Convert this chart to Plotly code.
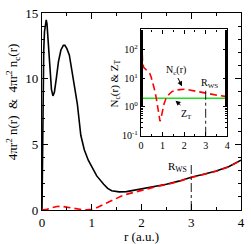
import plotly.graph_objects as go

# total density 4*pi*r^2 n(r)
r_tot = [0, 0.01, 0.02, 0.035, 0.05, 0.07, 0.085, 0.1, 0.13, 0.16, 0.19, 0.22, 0.25, 0.29, 0.33,
         0.38, 0.43, 0.46, 0.5, 0.55, 0.61, 0.67, 0.71, 0.78, 0.85, 0.93, 1.01, 1.1, 1.24, 1.32,
         1.4, 1.55, 1.7, 1.85, 2.0, 2.25, 2.5, 2.75, 3.0, 3.25, 3.5, 3.75, 4.0]
n_tot = [0, 5, 9.5, 12.2, 13.6, 14.3, 14.5, 14.2, 12.6, 10.6, 9.2, 8.7, 9.0, 10.1, 11.3,
         12.2, 12.55, 12.55, 12.3, 11.8, 10.5, 9.0, 8.1, 5.7, 4.6, 3.8, 3.19, 2.6, 1.96, 1.65,
         1.47, 1.38, 1.40, 1.5, 1.62, 1.78, 1.96, 2.2, 2.5, 2.72, 2.97, 3.3, 3.8]

# conduction density 4*pi*r^2 n_c(r)
r_c = [0, 0.1, 0.2, 0.3, 0.4, 0.5, 0.6, 0.7, 0.8, 0.9, 1.0, 1.1, 1.2, 1.3, 1.4, 1.5, 1.6,
       1.73, 1.85, 2.0, 2.25, 2.5, 2.75, 3.0, 3.25, 3.5, 3.75, 4.0]
n_c = [0, 0.05, 0.17, 0.27, 0.28, 0.22, 0.14, 0.07, 0.03, 0.02, 0.06, 0.18, 0.35, 0.55, 0.75,
       0.92, 1.07, 1.23, 1.36, 1.52, 1.74, 1.94, 2.18, 2.48, 2.7, 2.95, 3.28, 3.78]

# inset: N_c(r) and Z_T
r_N = [0.0, 0.01, 0.02, 0.04, 0.07, 0.12, 0.2, 0.3, 0.4, 0.47, 0.55, 0.62, 0.7, 0.77, 0.83,
       0.88, 0.94, 1.0, 1.07, 1.15, 1.23, 1.35, 1.45, 1.65, 1.85, 2.0, 2.25, 2.5, 2.8, 3.0,
       3.3, 3.6, 4.0]
N_c = [1000, 600, 250, 90, 40, 24, 21, 19, 15, 11, 7, 4.2, 2.2, 1.0, 0.5,
       0.32, 0.45, 0.8, 1.3, 1.9, 2.45, 3.0, 3.5, 3.9, 4.1, 4.15, 3.9, 3.6, 3.3, 3.0,
       2.7, 2.5, 2.3]
Z_T = 2.0
R_WS = 3.0

x_ticks = [0, 1, 2, 3, 4]
y_ticks = [0, 5, 10, 15]
inset_y_vals = [0.1, 1, 10, 100]
inset_y_text = ["10<sup>-1</sup>", "10<sup>0</sup>", "10<sup>1</sup>", "10<sup>2</sup>"]

FONT = "Liberation Serif"
RED = "#ff0000"
GREEN = "#22dd22"

fig = go.Figure()
fig.add_trace(go.Scatter(x=r_tot, y=n_tot, mode="lines", line=dict(color="black", width=1.6),
                         xaxis="x", yaxis="y", showlegend=False))
fig.add_trace(go.Scatter(x=r_c, y=n_c, mode="lines", line=dict(color=RED, width=1.6, dash="7px,4px"),
                         xaxis="x", yaxis="y", showlegend=False))
fig.add_trace(go.Scatter(x=[R_WS, R_WS], y=[0, 3.5], mode="lines",
                         line=dict(color="black", width=0.9, dash="dashdot"),
                         xaxis="x", yaxis="y", showlegend=False))

# inset traces
fig.add_trace(go.Scatter(x=[0, 4], y=[Z_T, Z_T], mode="lines", line=dict(color=GREEN, width=1.4),
                         xaxis="x2", yaxis="y2", showlegend=False))
fig.add_trace(go.Scatter(x=r_N, y=N_c, mode="lines", line=dict(color=RED, width=1.6, dash="7px,4px"),
                         xaxis="x2", yaxis="y2", showlegend=False))
fig.add_trace(go.Scatter(x=[R_WS, R_WS], y=[0.1, 4.2], mode="lines",
                         line=dict(color="black", width=0.9, dash="dashdot"),
                         xaxis="x2", yaxis="y2", showlegend=False))

axis_common = dict(showline=True, linecolor="black", linewidth=1.3, mirror="ticks",
                   ticks="inside", tickcolor="black", showgrid=False, zeroline=False,
                   ticklabeloverflow="allow")

fig.update_layout(
    width=251, height=244,
    margin=dict(l=42, r=6, t=6, b=34),
    paper_bgcolor="white", plot_bgcolor="white",
    font=dict(family=FONT, color="black", size=13),
    xaxis=dict(domain=[0, 1], range=[0, 4], tickvals=x_ticks, ticklen=6, tickwidth=1.1,
               minor=dict(dtick=0.5, ticks="inside", ticklen=3, tickcolor="black"),
               tickfont=dict(size=13), **axis_common),
    yaxis=dict(domain=[0, 1], range=[0, 15.02], tickvals=y_ticks, ticklen=6, tickwidth=1.1,
               minor=dict(dtick=1, ticks="inside", ticklen=3, tickcolor="black"),
               tickfont=dict(size=13), **axis_common),
    xaxis2=dict(domain=[0.4975, 0.931], range=[0, 4], anchor="y2", tickvals=x_ticks,
                ticklen=4, tickwidth=1, minor=dict(dtick=0.5, ticks="inside", ticklen=2, tickcolor="black"),
                tickfont=dict(size=10), **axis_common),
    yaxis2=dict(domain=[0.377, 0.917], type="log", range=[-1, 2.7], anchor="x2",
                tickvals=inset_y_vals, ticktext=inset_y_text, ticklen=4, tickwidth=1,
                minor=dict(ticks="inside", ticklen=2, tickcolor="black"),
                tickfont=dict(size=10), **axis_common),
    shapes=[dict(type="rect", xref="paper", yref="paper", x0=0.4975, x1=0.931, y0=0.377, y1=0.917,
                 fillcolor="white", line=dict(width=0), layer="below")],
)

ann = [
    dict(text="4πr<sup>2</sup> n(r)  &amp;  4πr<sup>2</sup> n<sub>c</sub>(r)", xref="paper", yref="paper",
         x=-0.148, y=0.55, textangle=-90, showarrow=False, font=dict(size=13),
         xanchor="center", yanchor="middle"),
    dict(text="r (a.u.)", xref="paper", yref="paper", x=0.5, y=-0.132, showarrow=False,
         font=dict(size=13), xanchor="center", yanchor="middle"),
    dict(text="N<sub>c</sub>(r) &amp; Z<sub>T</sub>", xref="paper", yref="paper", x=0.365, y=0.64,
         textangle=-90, showarrow=False, font=dict(size=11), xanchor="center", yanchor="middle"),
    dict(text="R<sub>WS</sub>", xref="x", yref="y", x=2.95, y=3.3, showarrow=False,
         font=dict(size=11), xanchor="right", yanchor="middle"),
    dict(text="R<sub>WS</sub>", xref="x2", yref="y2", x=3.18, y=0.82, showarrow=False,
         font=dict(size=10), xanchor="center", yanchor="middle"),
    dict(text="N<sub>c</sub>(r)", xref="x2", yref="y2", x=1.6, y=1.28, showarrow=False,
         font=dict(size=10), xanchor="center", yanchor="middle"),
    dict(text="Z<sub>T</sub>", xref="x2", yref="y2", x=2.1, y=-0.27, showarrow=False,
         font=dict(size=10), xanchor="center", yanchor="middle"),
    dict(text="", xref="x2", yref="y2", x=1.9, y=0.72, axref="x2", ayref="y2", ax=1.68, ay=1.06,
         showarrow=True, arrowhead=2, arrowsize=1, arrowwidth=1, arrowcolor="black"),
    dict(text="", xref="x2", yref="y2", x=1.6, y=0.22, axref="x2", ayref="y2", ax=1.9, ay=0.02,
         showarrow=True, arrowhead=2, arrowsize=1, arrowwidth=1, arrowcolor="black"),
]
fig.update_layout(annotations=ann)

fig.write_html("out.html", config={"displayModeBar": False},
               post_script="document.body.style.margin='0';document.body.style.overflow='hidden';")
